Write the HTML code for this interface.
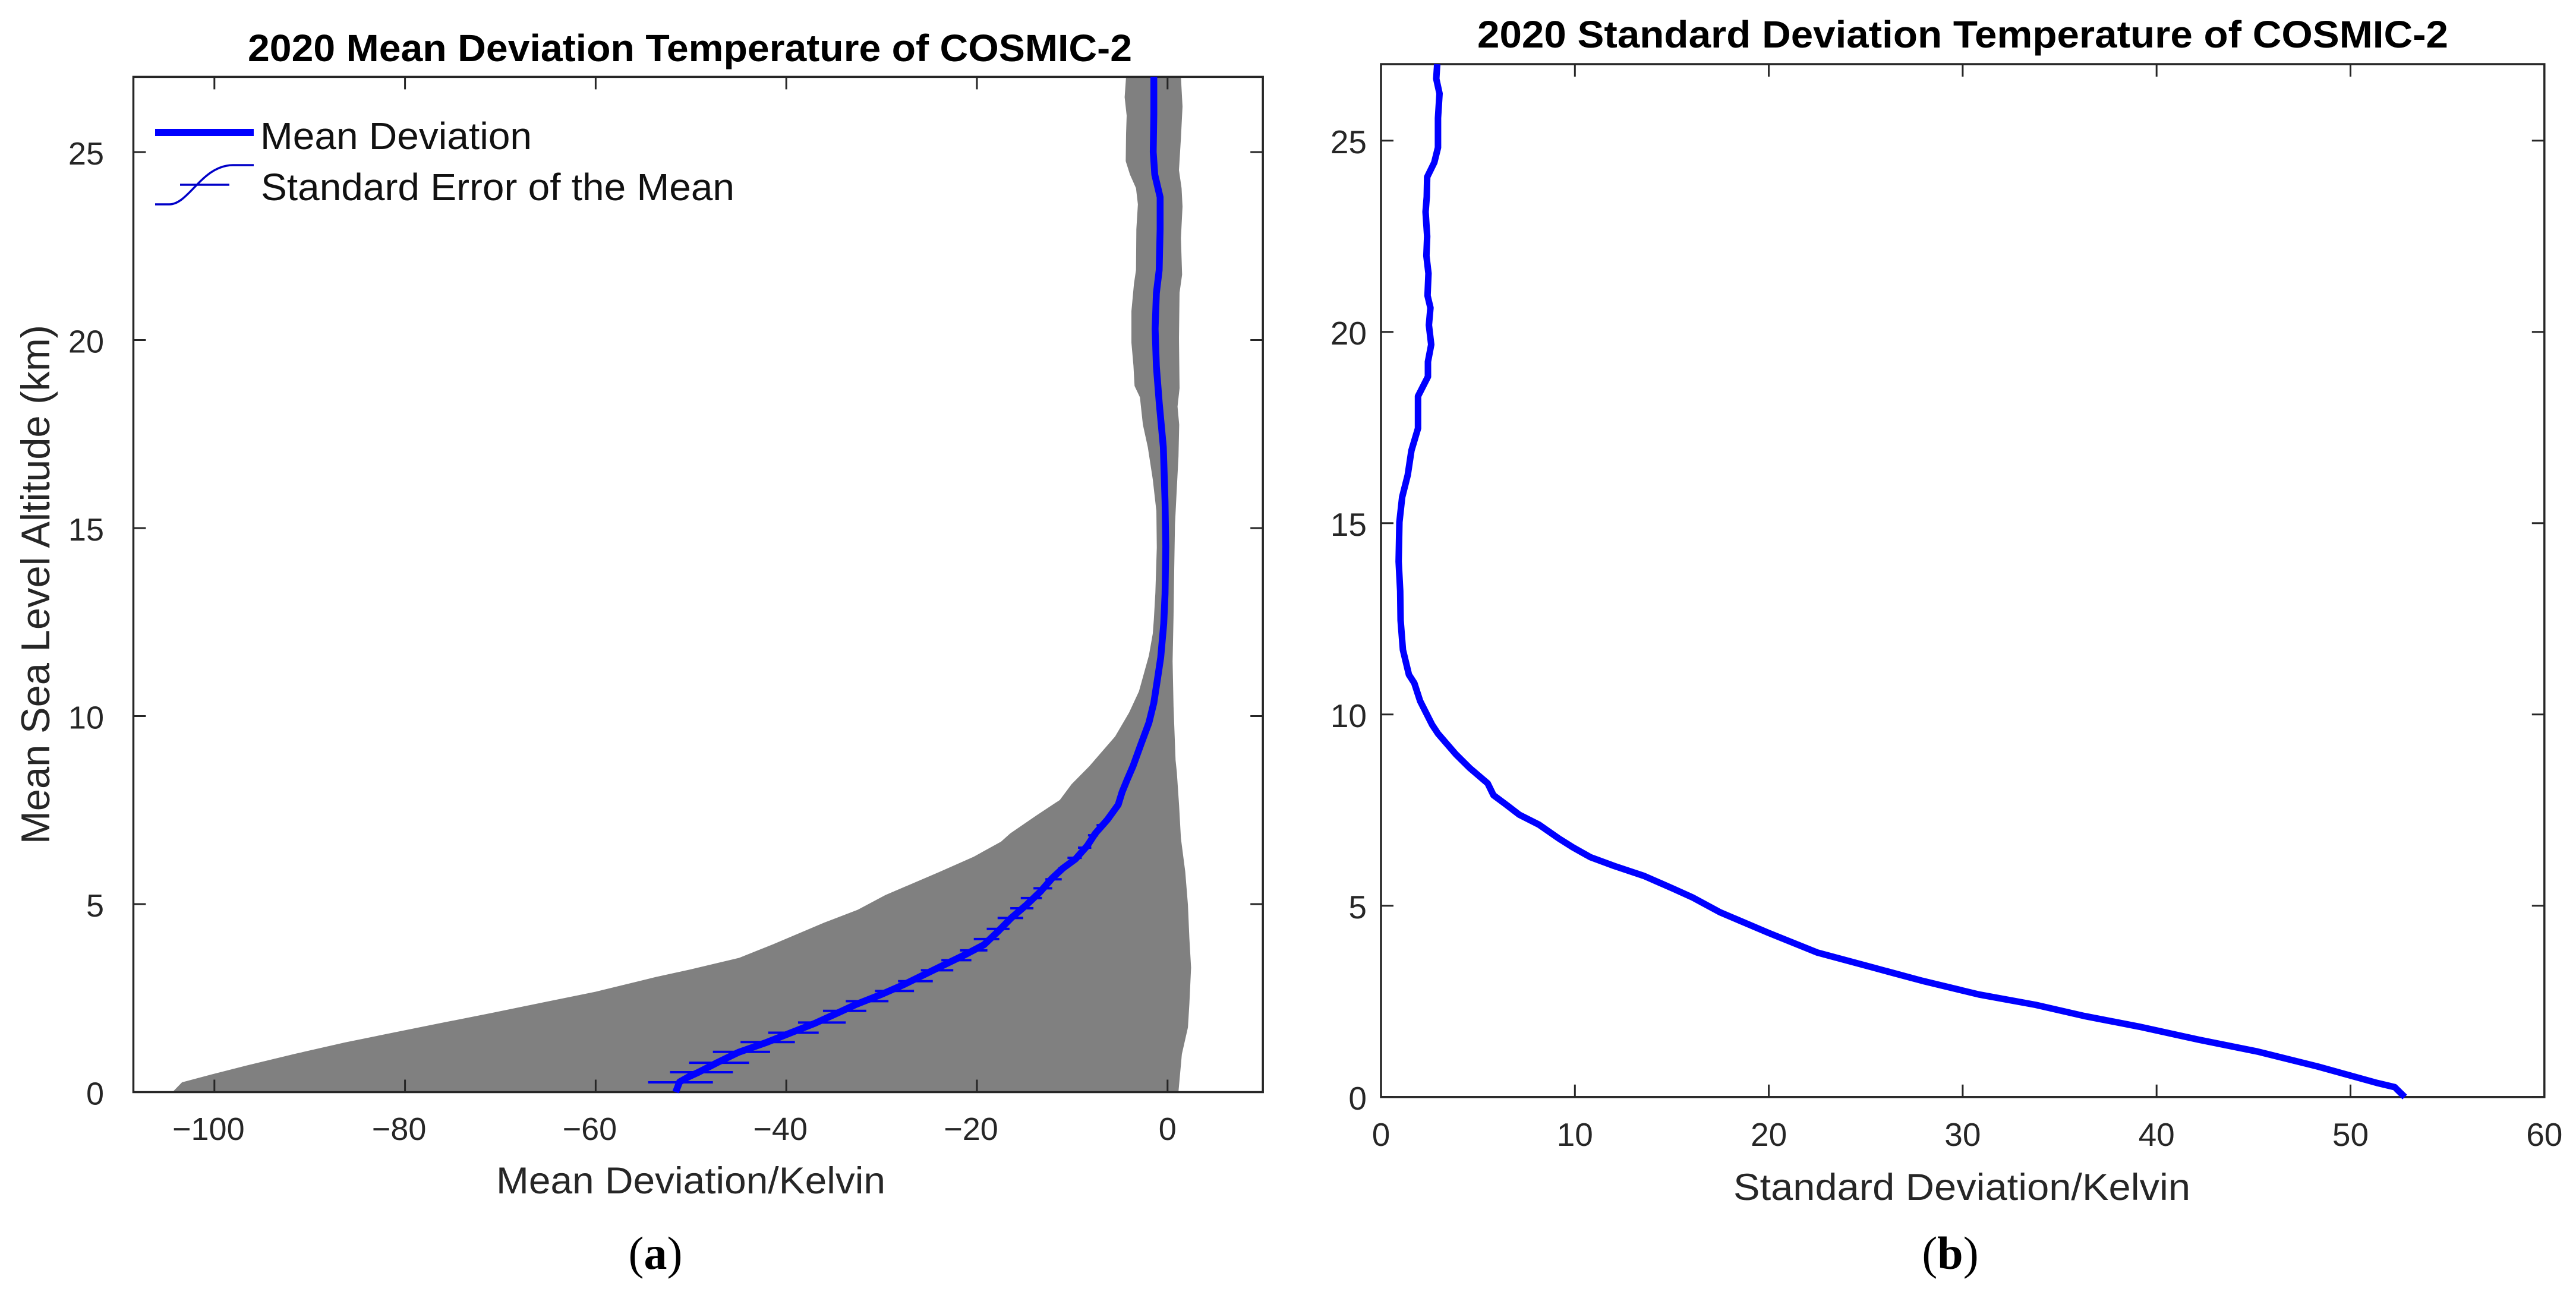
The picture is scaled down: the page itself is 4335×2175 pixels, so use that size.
<!DOCTYPE html>
<html lang="en">
<head>
<meta charset="utf-8">
<title>2020 COSMIC-2 Temperature Deviation</title>
<style>
html,body{margin:0;padding:0;background:#fff;}
svg{display:block;}
text{font-family:"Liberation Sans",Arial,sans-serif;}
.tick-label{fill:#262626;}
.axis-title{fill:#262626;}
.chart-title{font-weight:bold;font-size:64px;fill:#000;}
.legend-text{font-size:64px;fill:#111;}
.panel-label{font-family:"Liberation Serif",serif;font-size:78px;fill:#000;}
</style>
</head>
<body>
<svg id="figure" xmlns="http://www.w3.org/2000/svg" width="4335" height="2175" viewBox="0 0 4335 2175">
  <rect width="4335" height="2175" fill="#ffffff"/>
  <g id="panelA"></g>
  <g id="panelB"></g>

  <text class="chart-title" x="417" y="103" textLength="1488" lengthAdjust="spacingAndGlyphs">2020 Mean Deviation Temperature of COSMIC-2</text>
  <text class="chart-title" x="2486" y="80" textLength="1634" lengthAdjust="spacingAndGlyphs">2020 Standard Deviation Temperature of COSMIC-2</text>

  <text class="axis-title" font-size="68" transform="translate(83,1421) rotate(-90)" textLength="874" lengthAdjust="spacingAndGlyphs">Mean Sea Level Altitude (km)</text>
  <text class="axis-title" font-size="63" x="835" y="2009" textLength="655" lengthAdjust="spacingAndGlyphs">Mean Deviation/Kelvin</text>
  <text class="axis-title" font-size="63" x="2917" y="2020" textLength="769" lengthAdjust="spacingAndGlyphs">Standard Deviation/Kelvin</text>

  <g>
    <line x1="261" y1="223" x2="427" y2="223" stroke="#0000ff" stroke-width="12"/>
    <text class="legend-text" x="438" y="251" textLength="457" lengthAdjust="spacingAndGlyphs">Mean Deviation</text>
    <path d="M261 344 L285 344 C318 344 340 278 392 278 L427 278" fill="none" stroke="#0000c8" stroke-width="3.5"/>
    <line x1="303" y1="311" x2="386" y2="311" stroke="#0000c8" stroke-width="3.5"/>
    <text class="legend-text" x="439" y="337" textLength="797" lengthAdjust="spacingAndGlyphs">Standard Error of the Mean</text>
  </g>

  <text class="panel-label" x="1103" y="2136" text-anchor="middle">(<tspan font-weight="bold">a</tspan>)</text>
  <text class="panel-label" x="3282" y="2136" text-anchor="middle">(<tspan font-weight="bold">b</tspan>)</text>
</svg>

<script>
// ---- Panel (a) data: mean deviation profile, Kelvin vs km ----
const meanAltitudes = [27,26,25,24.4,23.8,22.95,21.86,21.25,20.3,19.3,18.35,17.15,15.7,14.5,13.25,12.46,11.56,11.03,10.35,9.82,9.25,8.67,8.3,7.98,7.64,7.24,6.88,6.56,6.2,5.95,5.69,5.33,4.98,4.63,4.27,3.92,3.66,3.39,3.13,2.86,2.6,2.33,2.14,1.83,1.57,1.31,1.06,0.79,0.53,0.4,0.27,0];
const meanValues = [-1.44,-1.44,-1.5,-1.34,-0.78,-0.78,-0.88,-1.17,-1.3,-1.17,-0.88,-0.44,-0.26,-0.19,-0.26,-0.4,-0.72,-1.03,-1.44,-1.96,-2.79,-3.62,-4.25,-4.77,-5.18,-6.33,-7.58,-8.4,-9.65,-11,-12.1,-13.35,-14.8,-16.4,-17.8,-19.26,-21.2,-23.4,-25.5,-27.67,-30,-32.7,-34.3,-37,-39.6,-42.2,-45,-47.2,-49.2,-50.3,-51.2,-51.6];

const bandLowerAltitudes = [27,26.46,25.97,25.49,24.76,24.4,24.04,23.61,22.95,21.86,21.5,20.77,19.93,19.32,18.78,18.48,17.75,17.15,16.3,15.45,14.48,13.28,12.56,12.19,11.61,10.66,10.09,9.46,8.67,8.19,7.77,7.35,6.88,6.66,6.26,5.86,5.24,4.85,4.51,3.93,3.57,3.26,3.06,2.67,2.38,2.11,1.85,1.59,1.32,1.02,0.71,0.47,0.26,0];
const bandLowerValues = [-4.35,-4.5,-4.29,-4.35,-4.39,-3.94,-3.31,-3.11,-3.27,-3.31,-3.52,-3.79,-3.79,-3.58,-3.46,-2.9,-2.59,-2.07,-1.55,-1.17,-1.13,-1.28,-1.44,-1.55,-1.96,-3,-4.04,-5.5,-8.2,-10.07,-11.3,-13.8,-16.5,-17.47,-20.33,-23.9,-29.6,-32.5,-36,-41.4,-44.95,-50.1,-53.7,-60,-65.6,-70.8,-76,-81.1,-86.3,-91.5,-96.6,-100.3,-103.4,-104.4];

const bandUpperAltitudes = [27,26.21,25.37,24.52,24.04,23.55,22.71,21.74,21.26,20.05,18.72,18.23,17.75,16.9,15.94,15.09,13.88,12.67,11.46,10.25,8.83,8.51,7.63,6.75,5.86,4.98,4.1,3.31,2.34,1.72,1.01,0];
const bandUpperValues = [1.4,1.57,1.4,1.2,1.47,1.57,1.4,1.53,1.26,1.2,1.26,1.05,1.22,1.15,0.95,0.78,0.7,0.63,0.53,0.63,0.84,0.97,1.21,1.4,1.86,2.14,2.29,2.47,2.29,2.14,1.5,1.14];

const errorAltitudes = [0.26,0.53,0.78,1.07,1.33,1.58,1.85,2.16,2.42,2.69,2.95,3.24,3.51,3.77,4.07,4.34,4.63,4.89,5.16,5.42,5.66,5.95,6.23,6.5,6.83,7.1];
const errorLow = [-54.5,-52.2,-50.2,-47.7,-44.8,-41.9,-38.77,-36.15,-33.76,-30.7,-28.28,-25.88,-23.73,-21.77,-20.33,-18.97,-17.83,-16.5,-15.4,-14.07,-12.82,-11.46,-10.5,-9.4,-8.35,-7.45];
const errorHigh = [-47.7,-45.6,-43.9,-41.7,-39.1,-36.6,-33.76,-31.6,-29.28,-26.6,-24.63,-22.48,-20.58,-18.9,-17.65,-16.58,-15.14,-14.07,-13.18,-12.1,-11.1,-10.6,-9,-8,-7.27,-6.45];

// ---- Panel (b) data: standard deviation profile, Kelvin vs km ----
const stdAltitudes = [27,26.62,26.23,25.59,24.82,24.43,24.05,23.53,23.14,22.5,21.99,21.53,20.95,20.63,20.18,19.67,19.22,18.83,18.32,17.48,16.9,16.26,15.68,15.03,14,13.23,12.46,11.69,11.04,10.82,10.35,10.04,9.73,9.5,8.96,8.6,8.2,7.89,7.66,7.38,7.12,6.76,6.53,6.27,6.04,5.78,5.44,5.21,4.83,4.29,3.78,3.38,3.04,2.68,2.41,2.12,1.84,1.5,1.19,0.8,0.37,0.26,0.1,0];
const stdValues = [2.9,2.85,3.02,2.94,2.94,2.75,2.38,2.36,2.3,2.38,2.34,2.45,2.4,2.55,2.47,2.59,2.42,2.42,1.91,1.91,1.57,1.38,1.09,0.95,0.91,0.99,1.01,1.13,1.44,1.72,2.02,2.33,2.64,2.94,3.86,4.58,5.5,5.8,6.41,7.13,8.15,9.17,9.89,10.8,12.03,13.57,15.1,16.1,17.48,19.99,22.49,25.41,27.9,30.84,33.76,36.26,39.1,42.17,45.2,48.3,51.36,52.28,52.6,52.8];

// ---- Tick values ----
const meanXTicks = [-100,-80,-60,-40,-20,0];
const stdXTicks = [0,10,20,30,40,50,60];
const altitudeTicks = [0,5,10,15,20,25];

// ---- Axis functions ----
const xA = v => 1964.8 + 16.04 * v;
const yA = a => 1838.5 - 63.3 * a;
const xB = v => 2324 + 32.63 * v;
const yB = a => 1846.8 - 64.4 * a;

const NS = 'http://www.w3.org/2000/svg';
const panelA = document.getElementById('panelA');
const panelB = document.getElementById('panelB');

function svgEl(tag, parent) {
  const e = document.createElementNS(NS, tag);
  parent.appendChild(e);
  return e;
}

function polyPoints(xs, ys, xFn, yFn) {
  return xs.map((v, i) => xFn(v).toFixed(1) + ',' + yFn(ys[i]).toFixed(1)).join(' ');
}

function drawAxes(parent, box, xTicks, xFn, yTicks, yFn, yLabelRight, yLabelDrop, xLabelBase, labelSize) {
  const frame = svgEl('rect', parent);
  
  
  frame.setAttribute('x', box.l);
  frame.setAttribute('y', box.t);
  frame.setAttribute('width', box.r - box.l);
  frame.setAttribute('height', box.b - box.t);
  frame.setAttribute('fill', 'none');
  frame.setAttribute('stroke', '#262626');
  frame.setAttribute('stroke-width', '3.5');

  xTicks.forEach(v => {
    const x = xFn(v);
    [[box.b, box.b - 21], [box.t, box.t + 21]].forEach(pair => {
      const t = svgEl('line', parent);
      
      
      t.setAttribute('x1', x);
      t.setAttribute('x2', x);
      t.setAttribute('y1', pair[0]);
      t.setAttribute('y2', pair[1]);
      t.setAttribute('stroke', '#262626');
      t.setAttribute('stroke-width', '3');
    });
    const lab = svgEl('text', parent);
    
    
    lab.setAttribute('class', 'tick-label');
    lab.setAttribute('font-size', labelSize);
    lab.setAttribute('x', x + (v < 0 ? -10 : 0));
    lab.setAttribute('y', xLabelBase);
    lab.setAttribute('text-anchor', 'middle');
    lab.textContent = (v < 0 ? '\u2212' + (-v) : String(v));
  });

  yTicks.forEach(a => {
    const y = yFn(a);
    [[box.l, box.l + 21], [box.r, box.r - 21]].forEach(pair => {
      const t = svgEl('line', parent);
      
      
      t.setAttribute('x1', pair[0]);
      t.setAttribute('x2', pair[1]);
      t.setAttribute('y1', y);
      t.setAttribute('y2', y);
      t.setAttribute('stroke', '#262626');
      t.setAttribute('stroke-width', '3');
    });
    const lab = svgEl('text', parent);
    
    
    lab.setAttribute('class', 'tick-label');
    lab.setAttribute('font-size', labelSize);
    lab.setAttribute('x', yLabelRight);
    lab.setAttribute('y', y + yLabelDrop);
    lab.setAttribute('text-anchor', 'end');
    lab.textContent = String(a);
  });
}

// Panel (a): grey spread band, axes, error bars, mean line
const band = svgEl('polygon', panelA);


band.setAttribute('fill', '#808080');
band.setAttribute('points',
  polyPoints(bandLowerValues, bandLowerAltitudes, xA, yA) + ' ' +
  polyPoints(bandUpperValues.slice().reverse(), bandUpperAltitudes.slice().reverse(), xA, yA));

drawAxes(panelA, {l: xA(-108.5), r: xA(10), t: yA(27), b: yA(0)}, meanXTicks, xA, altitudeTicks, yA, 175, 21, 1919, 54);

errorAltitudes.forEach((a, i) => {
  const bar = svgEl('line', panelA);
  
  
  bar.setAttribute('x1', xA(errorLow[i]));
  bar.setAttribute('x2', xA(errorHigh[i]));
  bar.setAttribute('y1', yA(a));
  bar.setAttribute('y2', yA(a));
  bar.setAttribute('stroke', '#0000f0');
  bar.setAttribute('stroke-width', '4');
});

const meanLine = svgEl('polyline', panelA);


meanLine.setAttribute('fill', 'none');
meanLine.setAttribute('stroke', '#0000ff');
meanLine.setAttribute('stroke-width', '11.5');
meanLine.setAttribute('stroke-linejoin', 'round');
meanLine.setAttribute('points', polyPoints(meanValues, meanAltitudes, xA, yA));

// Panel (b): axes and standard deviation line
drawAxes(panelB, {l: xB(0), r: xB(60), t: yB(27), b: yB(0)}, stdXTicks, xB, altitudeTicks, yB, 2300, 21, 1929, 55);

const stdLine = svgEl('polyline', panelB);


stdLine.setAttribute('fill', 'none');
stdLine.setAttribute('stroke', '#0000ff');
stdLine.setAttribute('stroke-width', '11');
stdLine.setAttribute('stroke-linejoin', 'round');
stdLine.setAttribute('points', polyPoints(stdValues, stdAltitudes, xB, yB));
</script>
</body>
</html>
